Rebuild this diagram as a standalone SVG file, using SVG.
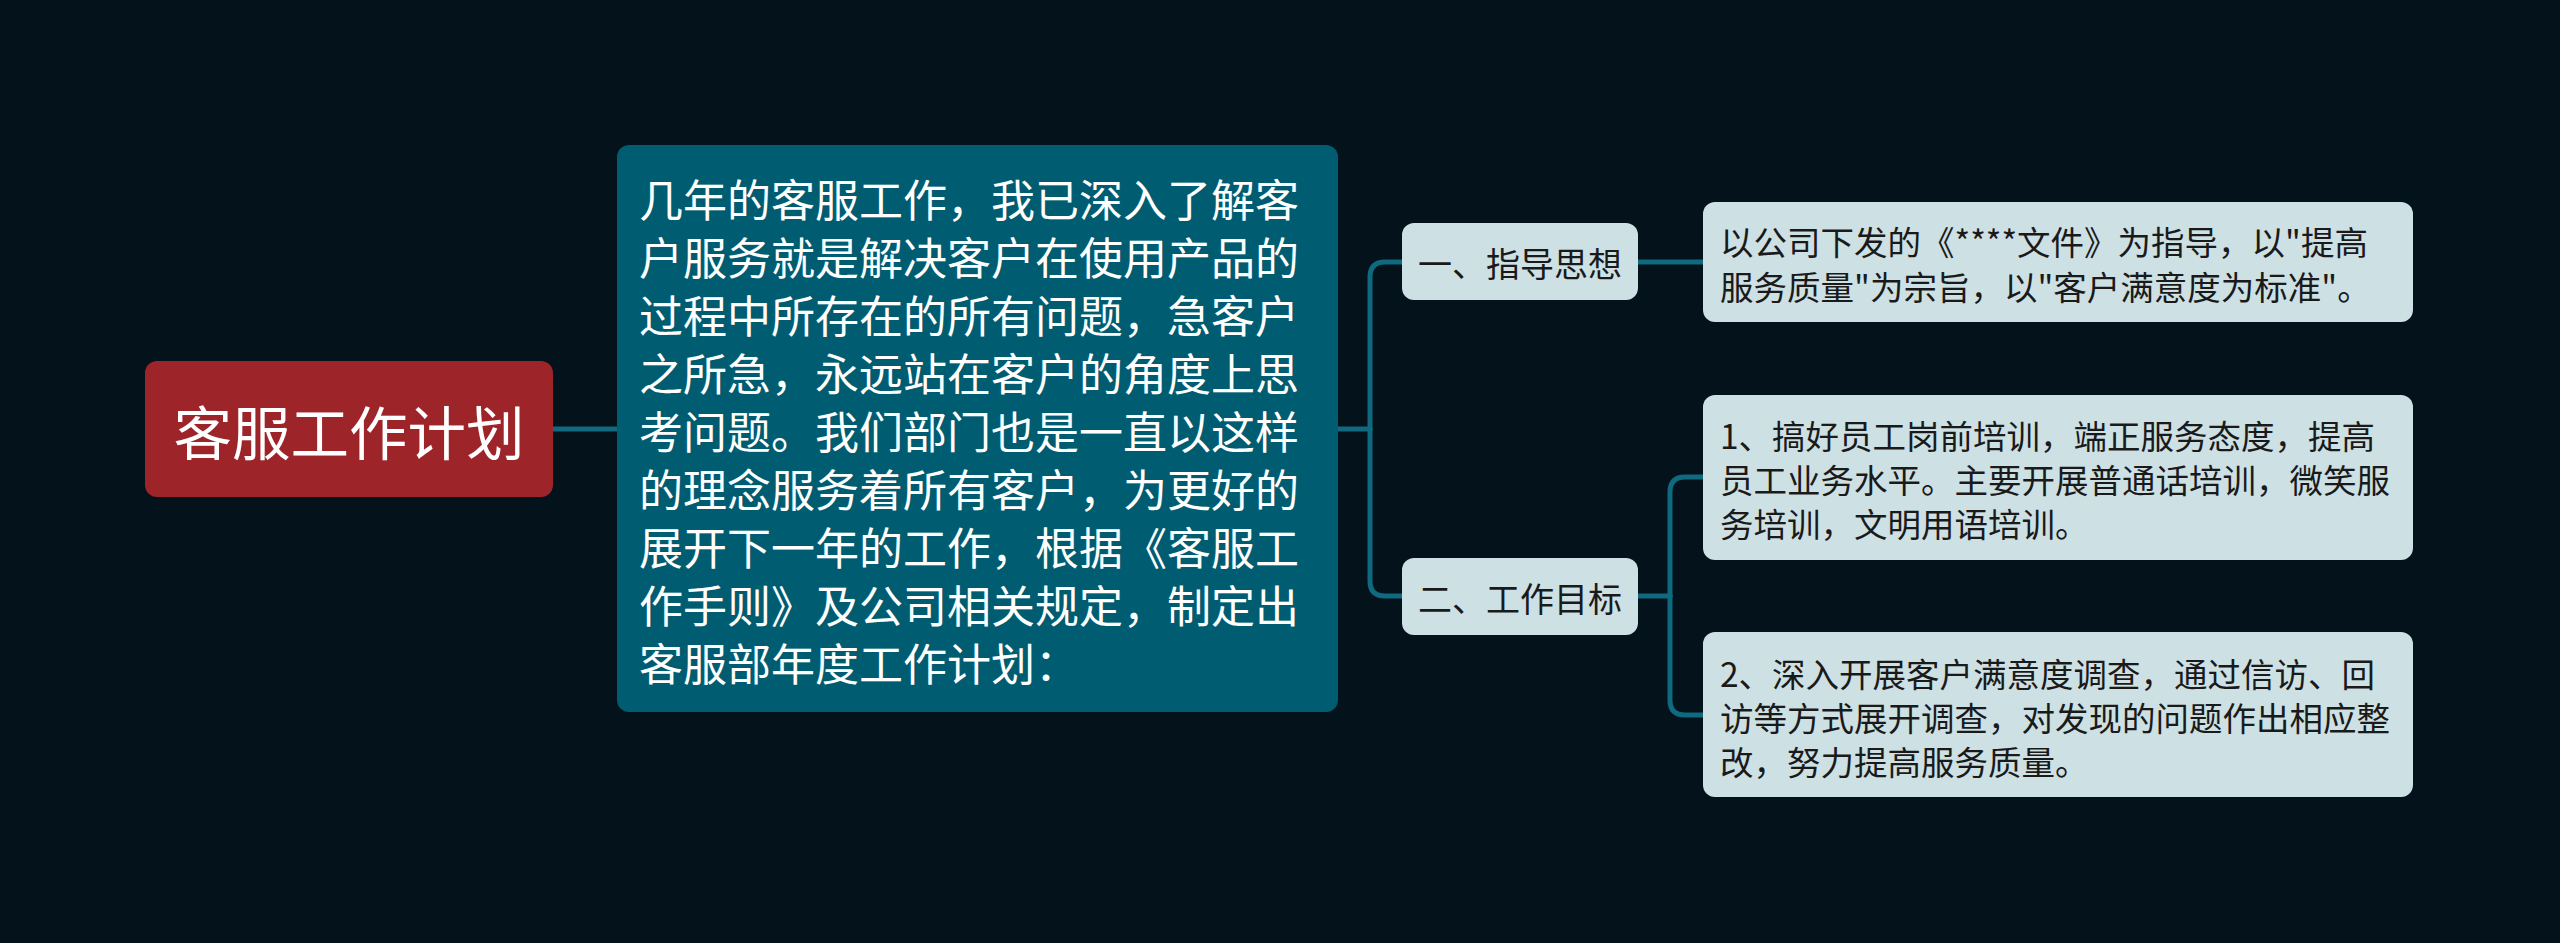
<svg xmlns="http://www.w3.org/2000/svg" width="2560" height="943" viewBox="0 0 2560 943">
<style>
.bg{fill:#03121b}
.conn{fill:none;stroke:#0f6a7f;stroke-width:5;stroke-linecap:round}
.root rect{fill:#9d2429}
.root text{fill:#ffffff;font-size:58.5px}
.main rect{fill:#005d71}
.main text{fill:#ffffff;font-size:44px}
.sub rect{fill:#cde0e4}
.sub text{fill:#1a1a1a;font-size:33.5px}
.br text{font-size:34px}
text{font-family:"Noto Sans CJK SC","Noto Sans",sans-serif;dominant-baseline:central}
</style>
<rect class="bg" x="0" y="0" width="2560" height="943"/>
<g id="connectors">
<path class="conn" d="M553 429 H617"/>
<path class="conn" d="M1337 429 H1370"/>
<path class="conn" d="M1370 429 V277 Q1370 262 1385 262 H1402"/>
<path class="conn" d="M1370 429 V581 Q1370 596 1385 596 H1402"/>
<path class="conn" d="M1638 262 H1703"/>
<path class="conn" d="M1638 596 H1670"/>
<path class="conn" d="M1670 596 V492 Q1670 477 1685 477 H1703"/>
<path class="conn" d="M1670 596 V700 Q1670 715 1685 715 H1703"/>
</g>
<g id="root" class="root">
<rect x="145" y="361" width="408" height="136" rx="12"/>
<text x="349" y="429" text-anchor="middle">客服工作计划</text>
</g>
<g id="main" class="main">
<rect x="617" y="145" width="721" height="567" rx="12"/>
<text x="639" y="198">几年的客服工作，我已深入了解客</text>
<text x="639" y="256">户服务就是解决客户在使用产品的</text>
<text x="639" y="314">过程中所存在的所有问题，急客户</text>
<text x="639" y="372">之所急，永远站在客户的角度上思</text>
<text x="639" y="430">考问题。我们部门也是一直以这样</text>
<text x="639" y="488">的理念服务着所有客户，为更好的</text>
<text x="639" y="546">展开下一年的工作，根据《客服工</text>
<text x="639" y="604">作手则》及公司相关规定，制定出</text>
<text x="639" y="662">客服部年度工作计划：</text>
</g>
<g id="branch1" class="sub br">
<rect x="1402" y="223" width="236" height="77" rx="12"/>
<text x="1520" y="262" text-anchor="middle">一、指导思想</text>
</g>
<g id="leaf1" class="sub">
<rect x="1703" y="202" width="710" height="120" rx="12"/>
<text x="1720" y="240">以公司下发的《****文件》为指导，以"提高</text>
<text x="1720" y="285">服务质量"为宗旨，以"客户满意度为标准"。</text>
</g>
<g id="branch2" class="sub br">
<rect x="1402" y="558" width="236" height="77" rx="12"/>
<text x="1520" y="597" text-anchor="middle">二、工作目标</text>
</g>
<g id="leaf2" class="sub">
<rect x="1703" y="395" width="710" height="165" rx="12"/>
<text x="1720" y="434">1、搞好员工岗前培训，端正服务态度，提高</text>
<text x="1720" y="478">员工业务水平。主要开展普通话培训，微笑服</text>
<text x="1720" y="522">务培训，文明用语培训。</text>
</g>
<g id="leaf3" class="sub">
<rect x="1703" y="632" width="710" height="165" rx="12"/>
<text x="1720" y="672">2、深入开展客户满意度调查，通过信访、回</text>
<text x="1720" y="716">访等方式展开调查，对发现的问题作出相应整</text>
<text x="1720" y="760">改，努力提高服务质量。</text>
</g>
</svg>
